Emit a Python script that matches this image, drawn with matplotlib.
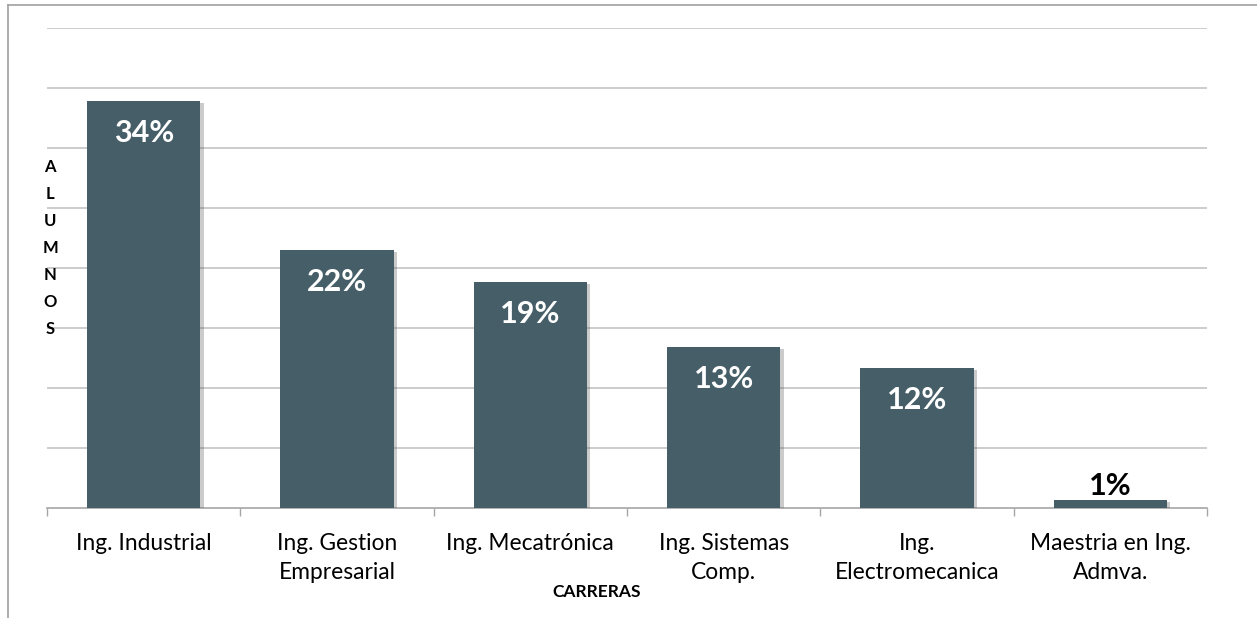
import matplotlib.pyplot as plt
import matplotlib.patheffects as pe
from matplotlib.lines import Line2D
import numpy as np

carreras = ["Ing. Industrial", "Ing. Gestion\nEmpresarial", "Ing. Mecatrónica",
            "Ing. Sistemas\nComp.", "Ing.\nElectromecanica", "Maestria en Ing.\nAdmva."]
porcentajes = [33.9, 21.5, 18.8, 13.4, 11.7, 0.7]
etiquetas = ["34%", "22%", "19%", "13%", "12%", "1%"]

plt.rcParams["font.family"] = ["Lato", "DejaVu Sans"]
bar_color = "#465e68"

fig = plt.figure(figsize=(12.57, 6.18), dpi=100)
ax = fig.add_axes([47 / 1257, 1 - 508 / 618, 1160 / 1257, 480 / 618])

x = np.arange(len(carreras))
bars = ax.bar(x, porcentajes, width=0.585, color=bar_color, zorder=3)
for b in bars:
    b.set_path_effects([pe.SimplePatchShadow(offset=(2.5, -1.5), shadow_rgbFace="#555555", alpha=0.3),
                        pe.Normal()])

for xi, v, lab in zip(x, porcentajes, etiquetas):
    if v > 5:
        ax.annotate(lab, (xi, v), xytext=(0, -23), textcoords="offset points",
                    ha="center", va="center", color="white", fontsize=22, fontweight="bold", zorder=4)
    else:
        ax.annotate(lab, (xi, v), xytext=(0, 10), textcoords="offset points",
                    ha="center", va="center", color="black", fontsize=22, fontweight="bold", zorder=4)

ax.set_xlim(-0.5, len(carreras) - 0.5)
ax.set_ylim(0, 40)
ax.set_yticks(np.arange(5, 41, 5))
ax.yaxis.grid(True, color="#c4c4c4", linewidth=1.2, zorder=0)
ax.tick_params(axis="y", length=0, labelleft=False)

ax.set_xticks(x)
ax.set_xticklabels(carreras, fontsize=16.4, linespacing=1.45)
ax.set_xticks(np.arange(-0.5, len(carreras), 1), minor=True)
ax.tick_params(axis="x", which="major", length=0, pad=18)
ax.tick_params(axis="x", which="minor", length=6, color="#a6a6a6", width=1)

for s in ["top", "right", "left"]:
    ax.spines[s].set_visible(False)
ax.spines["bottom"].set_color("#a6a6a6")
ax.spines["bottom"].set_linewidth(1.2)

fig.text(597 / 1257, 1 - 592 / 618, "CARRERAS", ha="center", va="center",
         fontsize=12.5, fontweight="bold")
fig.text(50 / 1257, 1 - 248 / 618, "\n".join("ALUMNOS"), ha="center", va="center",
         fontsize=12, fontweight="bold", linespacing=1.85)

# marco exterior
fig.add_artist(Line2D([8 / 1257, 1], [1 - 5 / 618, 1 - 5 / 618], color="#a0a0a0", lw=1.2))
fig.add_artist(Line2D([8 / 1257, 8 / 1257], [0, 1 - 5 / 618], color="#a0a0a0", lw=1.2))

fig.savefig("out.png", dpi=100)
